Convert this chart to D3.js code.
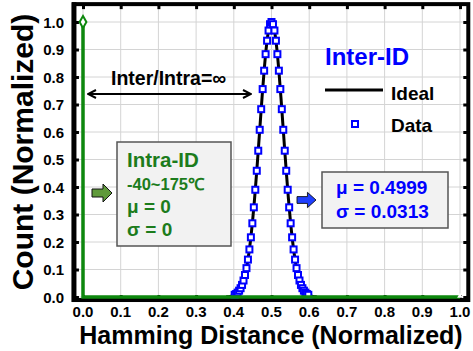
<!DOCTYPE html>
<html>
<head>
<meta charset="utf-8">
<script src="https://cdn.jsdelivr.net/npm/d3@7"></script>
<style>
  body { margin: 0; background: #fff; }
  svg text { font-family: Arial, "Liberation Sans", Helvetica, sans-serif; font-weight: 700; }
</style>
</head>
<body>
<div id="chart"></div>
<script>
// tick labels
var xTicks = [0.0, 0.1, 0.2, 0.3, 0.4, 0.5, 0.6, 0.7, 0.8, 0.9, 1.0];
var yTicks = [0.0, 0.1, 0.2, 0.3, 0.4, 0.5, 0.6, 0.7, 0.8, 0.9, 1.0];

// intra-ID distribution (all at HD = 0)
var intraX = [0, 0, 1];
var intraY = [1, 0, 0];

// inter-ID measured data: hamming distance in bits (of 256), normalized count
var nBits = 256;
var dataBits = [103, 104, 105, 106, 107, 108, 109, 110, 111, 112, 113, 114, 115, 116, 117, 118, 119, 120, 121, 122, 123, 124, 125, 126, 127, 128,
                129, 130, 131, 132, 133, 134, 135, 136, 137, 138, 139, 140, 141, 142, 143, 144, 145, 146, 147, 148, 149, 150, 151, 152, 153];
var dataCount = [0.008, 0.011, 0.016, 0.023, 0.032, 0.044, 0.060, 0.080, 0.105, 0.136, 0.173, 0.217, 0.268, 0.326, 0.390, 0.459, 0.532, 0.608, 0.683, 0.756, 0.823, 0.883, 0.932, 0.969, 0.992, 1.000,
                 0.992, 0.969, 0.932, 0.883, 0.823, 0.756, 0.683, 0.608, 0.532, 0.459, 0.390, 0.326, 0.268, 0.217, 0.173, 0.136, 0.105, 0.080, 0.060, 0.044, 0.032, 0.023, 0.016, 0.011, 0.008];

// ideal curve
var idealX = [0.38, 0.39, 0.40, 0.405, 0.41, 0.415, 0.42, 0.425, 0.43, 0.435, 0.44, 0.445, 0.45, 0.455, 0.46, 0.465, 0.47, 0.475, 0.48, 0.485, 0.49, 0.495, 0.50,
              0.505, 0.51, 0.515, 0.52, 0.525, 0.53, 0.535, 0.54, 0.545, 0.55, 0.555, 0.56, 0.565, 0.57, 0.575, 0.58, 0.585, 0.59, 0.595, 0.60, 0.61, 0.62];
var idealY = [0.0006, 0.0021, 0.0061, 0.0100, 0.0160, 0.0250, 0.0381, 0.0567, 0.0820, 0.1157, 0.1592, 0.2136, 0.2792, 0.3557, 0.4419, 0.5352, 0.6317, 0.7269, 0.8153, 0.8915, 0.9502, 0.9873, 1.0,
              0.9873, 0.9502, 0.8915, 0.8153, 0.7269, 0.6317, 0.5352, 0.4419, 0.3557, 0.2792, 0.2136, 0.1592, 0.1157, 0.0820, 0.0567, 0.0381, 0.0250, 0.0160, 0.0100, 0.0061, 0.0021, 0.0006];

var W = 473, H = 351;
var green = "#0e880e", greenText = "#1c7c1c", blue = "#0000ff";

var svg = d3.select("#chart").append("svg")
  .attr("width", W).attr("height", H)
  .attr("font-family", "Arial, 'Liberation Sans', sans-serif");

var x = d3.scaleLinear().domain([0, 1]).range([83, 460]);
var y = d3.scaleLinear().domain([0, 1]).range([297, 22]);

// frame limits (slightly beyond the data range)
var fx0 = x(-0.024), fx1 = x(1.022), fy0 = y(-0.011), fy1 = y(1.065);

// grid
svg.append("g").selectAll("line").data(xTicks).enter().append("line")
  .attr("x1", d => x(d)).attr("x2", d => x(d))
  .attr("y1", fy1).attr("y2", fy0)
  .attr("stroke", "#d4d4d4").attr("stroke-width", 1);
svg.append("g").selectAll("line").data(yTicks).enter().append("line")
  .attr("x1", fx0).attr("x2", fx1)
  .attr("y1", d => y(d)).attr("y2", d => y(d))
  .attr("stroke", "#d4d4d4").attr("stroke-width", 1);

// frame with inward ticks
var tickLen = 5;
var axL = svg.append("g").attr("transform", "translate(" + fx0 + ",0)")
  .call(d3.axisRight(y).tickValues(yTicks).tickSize(tickLen).tickFormat(""));
var axR = svg.append("g").attr("transform", "translate(" + fx1 + ",0)")
  .call(d3.axisLeft(y).tickValues(yTicks).tickSize(tickLen).tickFormat(""));
var axT = svg.append("g").attr("transform", "translate(0," + fy1 + ")")
  .call(d3.axisBottom(x).tickValues(xTicks).tickSize(tickLen).tickFormat(""));
var axB = svg.append("g").attr("transform", "translate(0," + fy0 + ")")
  .call(d3.axisTop(x).tickValues(xTicks).tickSize(tickLen).tickFormat(""));
[axL, axR, axT, axB].forEach(function(a) {
  a.select(".domain").remove();
  a.selectAll(".tick line").attr("stroke", "#000").attr("stroke-width", 3);
});
svg.append("rect")
  .attr("x", fx0).attr("y", fy1).attr("width", fx1 - fx0).attr("height", fy0 - fy1)
  .attr("fill", "none").attr("stroke", "#000").attr("stroke-width", 4);
svg.append("line").attr("x1", fx0).attr("x2", fx0).attr("y1", fy1 - 2).attr("y2", fy0 + 2)
  .attr("stroke", "#000").attr("stroke-width", 5);

// tick labels
svg.append("g").selectAll("text").data(yTicks).enter().append("text")
  .attr("x", 64).attr("y", d => y(d) + 5.5)
  .attr("text-anchor", "end").attr("font-size", 15)
  .text(d => d.toFixed(1));
svg.append("g").selectAll("text").data(xTicks).enter().append("text")
  .attr("x", d => x(d)).attr("y", 316.5)
  .attr("text-anchor", "middle").attr("font-size", 15)
  .text(d => d.toFixed(1));

// axis titles
svg.append("text").attr("x", 271).attr("y", 343.5)
  .attr("text-anchor", "middle").attr("font-size", 25)
  .text("Hamming Distance (Normalized)");
svg.append("text").attr("transform", "translate(33,152) rotate(-90)")
  .attr("text-anchor", "middle").attr("font-size", 30)
  .text("Count (Normalized)");

// ideal curve
var ideal = idealX.map((v, i) => [v, idealY[i]]);
svg.append("path").datum(ideal)
  .attr("d", d3.line().x(d => x(d[0])).y(d => y(d[1])).curve(d3.curveCatmullRom))
  .attr("fill", "none").attr("stroke", "#000").attr("stroke-width", 3);

// measured data
var pts = dataBits.map((b, i) => [b / nBits, dataCount[i]]);
var sq = 6;
svg.append("g").selectAll("rect").data(pts).enter().append("rect")
  .attr("x", d => x(d[0]) - sq / 2).attr("y", d => y(d[1]) - sq / 2)
  .attr("width", sq).attr("height", sq)
  .attr("fill", "#fff").attr("stroke", blue).attr("stroke-width", 2);

// intra-ID line
var intra = intraX.map((v, i) => [v, intraY[i]]);
svg.append("path").datum(intra)
  .attr("d", d3.line().x(d => x(d[0])).y(d => y(d[1])))
  .attr("fill", "none").attr("stroke", green).attr("stroke-width", 3.5);
svg.append("path")
  .attr("d", d3.symbol().type(d3.symbolDiamond).size(40)())
  .attr("transform", "translate(" + x(0) + "," + y(1) + ")")
  .attr("fill", "#fff").attr("stroke", green).attr("stroke-width", 2);
svg.append("path")
  .attr("d", d3.symbol().type(d3.symbolTriangle).size(14)())
  .attr("transform", "translate(" + x(1) + "," + (y(0) - 1) + ")")
  .attr("fill", "#fff");

// Inter/Intra arrow
svg.append("defs").html(
  '<marker id="ah" viewBox="0 0 10 10" refX="9" refY="5" markerWidth="10" markerHeight="10" markerUnits="userSpaceOnUse" orient="auto-start-reverse">' +
  '<path d="M1,1 L9,5 L1,9" fill="none" stroke="#000" stroke-width="2"/></marker>');
svg.append("line").attr("x1", 88).attr("x2", 251).attr("y1", 94).attr("y2", 94)
  .attr("stroke", "#000").attr("stroke-width", 2)
  .attr("marker-start", "url(#ah)").attr("marker-end", "url(#ah)");
svg.append("text").attr("x", 111).attr("y", 85).attr("font-size", 19.5)
  .text("Inter/Intra=∞");

// Intra-ID box
svg.append("rect").attr("x", 117).attr("y", 142).attr("width", 114).attr("height", 104)
  .attr("fill", "#f2f2f2").attr("stroke", "#555").attr("stroke-width", 1.5);
var intraLines = [["Intra-ID", 167, 20.5], ["-40~175℃", 190, 16.5], ["μ = 0", 213, 19], ["σ = 0", 236, 19]];
svg.append("g").selectAll("text").data(intraLines).enter().append("text")
  .attr("x", 127).attr("y", d => d[1]).attr("font-size", d => d[2])
  .attr("fill", greenText).text(d => d[0]);

// block arrows
var arrowPath = "M0,-4 L11,-4 L11,-9 L20,0 L11,9 L11,4 L0,4 Z";
svg.append("path").attr("d", arrowPath).attr("transform", "translate(92,193)")
  .attr("fill", "#5f9a3a").attr("stroke", "#111").attr("stroke-width", 1);
svg.append("path").attr("d", arrowPath).attr("transform", "translate(297,200) scale(0.95,0.85)")
  .attr("fill", "#1f3fff").attr("stroke", "#111").attr("stroke-width", 1);

// Inter-ID box
svg.append("rect").attr("x", 322).attr("y", 172).attr("width", 126).attr("height", 56)
  .attr("fill", "#f2f2f2").attr("stroke", "#555").attr("stroke-width", 1.5);
svg.append("text").attr("x", 336).attr("y", 194).attr("font-size", 19).attr("fill", blue).text("μ = 0.4999");
svg.append("text").attr("x", 336).attr("y", 218).attr("font-size", 19).attr("fill", blue).text("σ = 0.0313");

// legend
svg.append("text").attr("x", 325).attr("y", 65).attr("font-size", 24).attr("fill", blue).text("Inter-ID");
svg.append("line").attr("x1", 325).attr("x2", 383).attr("y1", 90).attr("y2", 90)
  .attr("stroke", "#000").attr("stroke-width", 3);
svg.append("text").attr("x", 391).attr("y", 100).attr("font-size", 19).text("Ideal");
svg.append("rect").attr("x", 352).attr("y", 121).attr("width", sq).attr("height", sq)
  .attr("fill", "#fff").attr("stroke", blue).attr("stroke-width", 2);
svg.append("text").attr("x", 391).attr("y", 132).attr("font-size", 19).text("Data");
</script>
</body>
</html>
